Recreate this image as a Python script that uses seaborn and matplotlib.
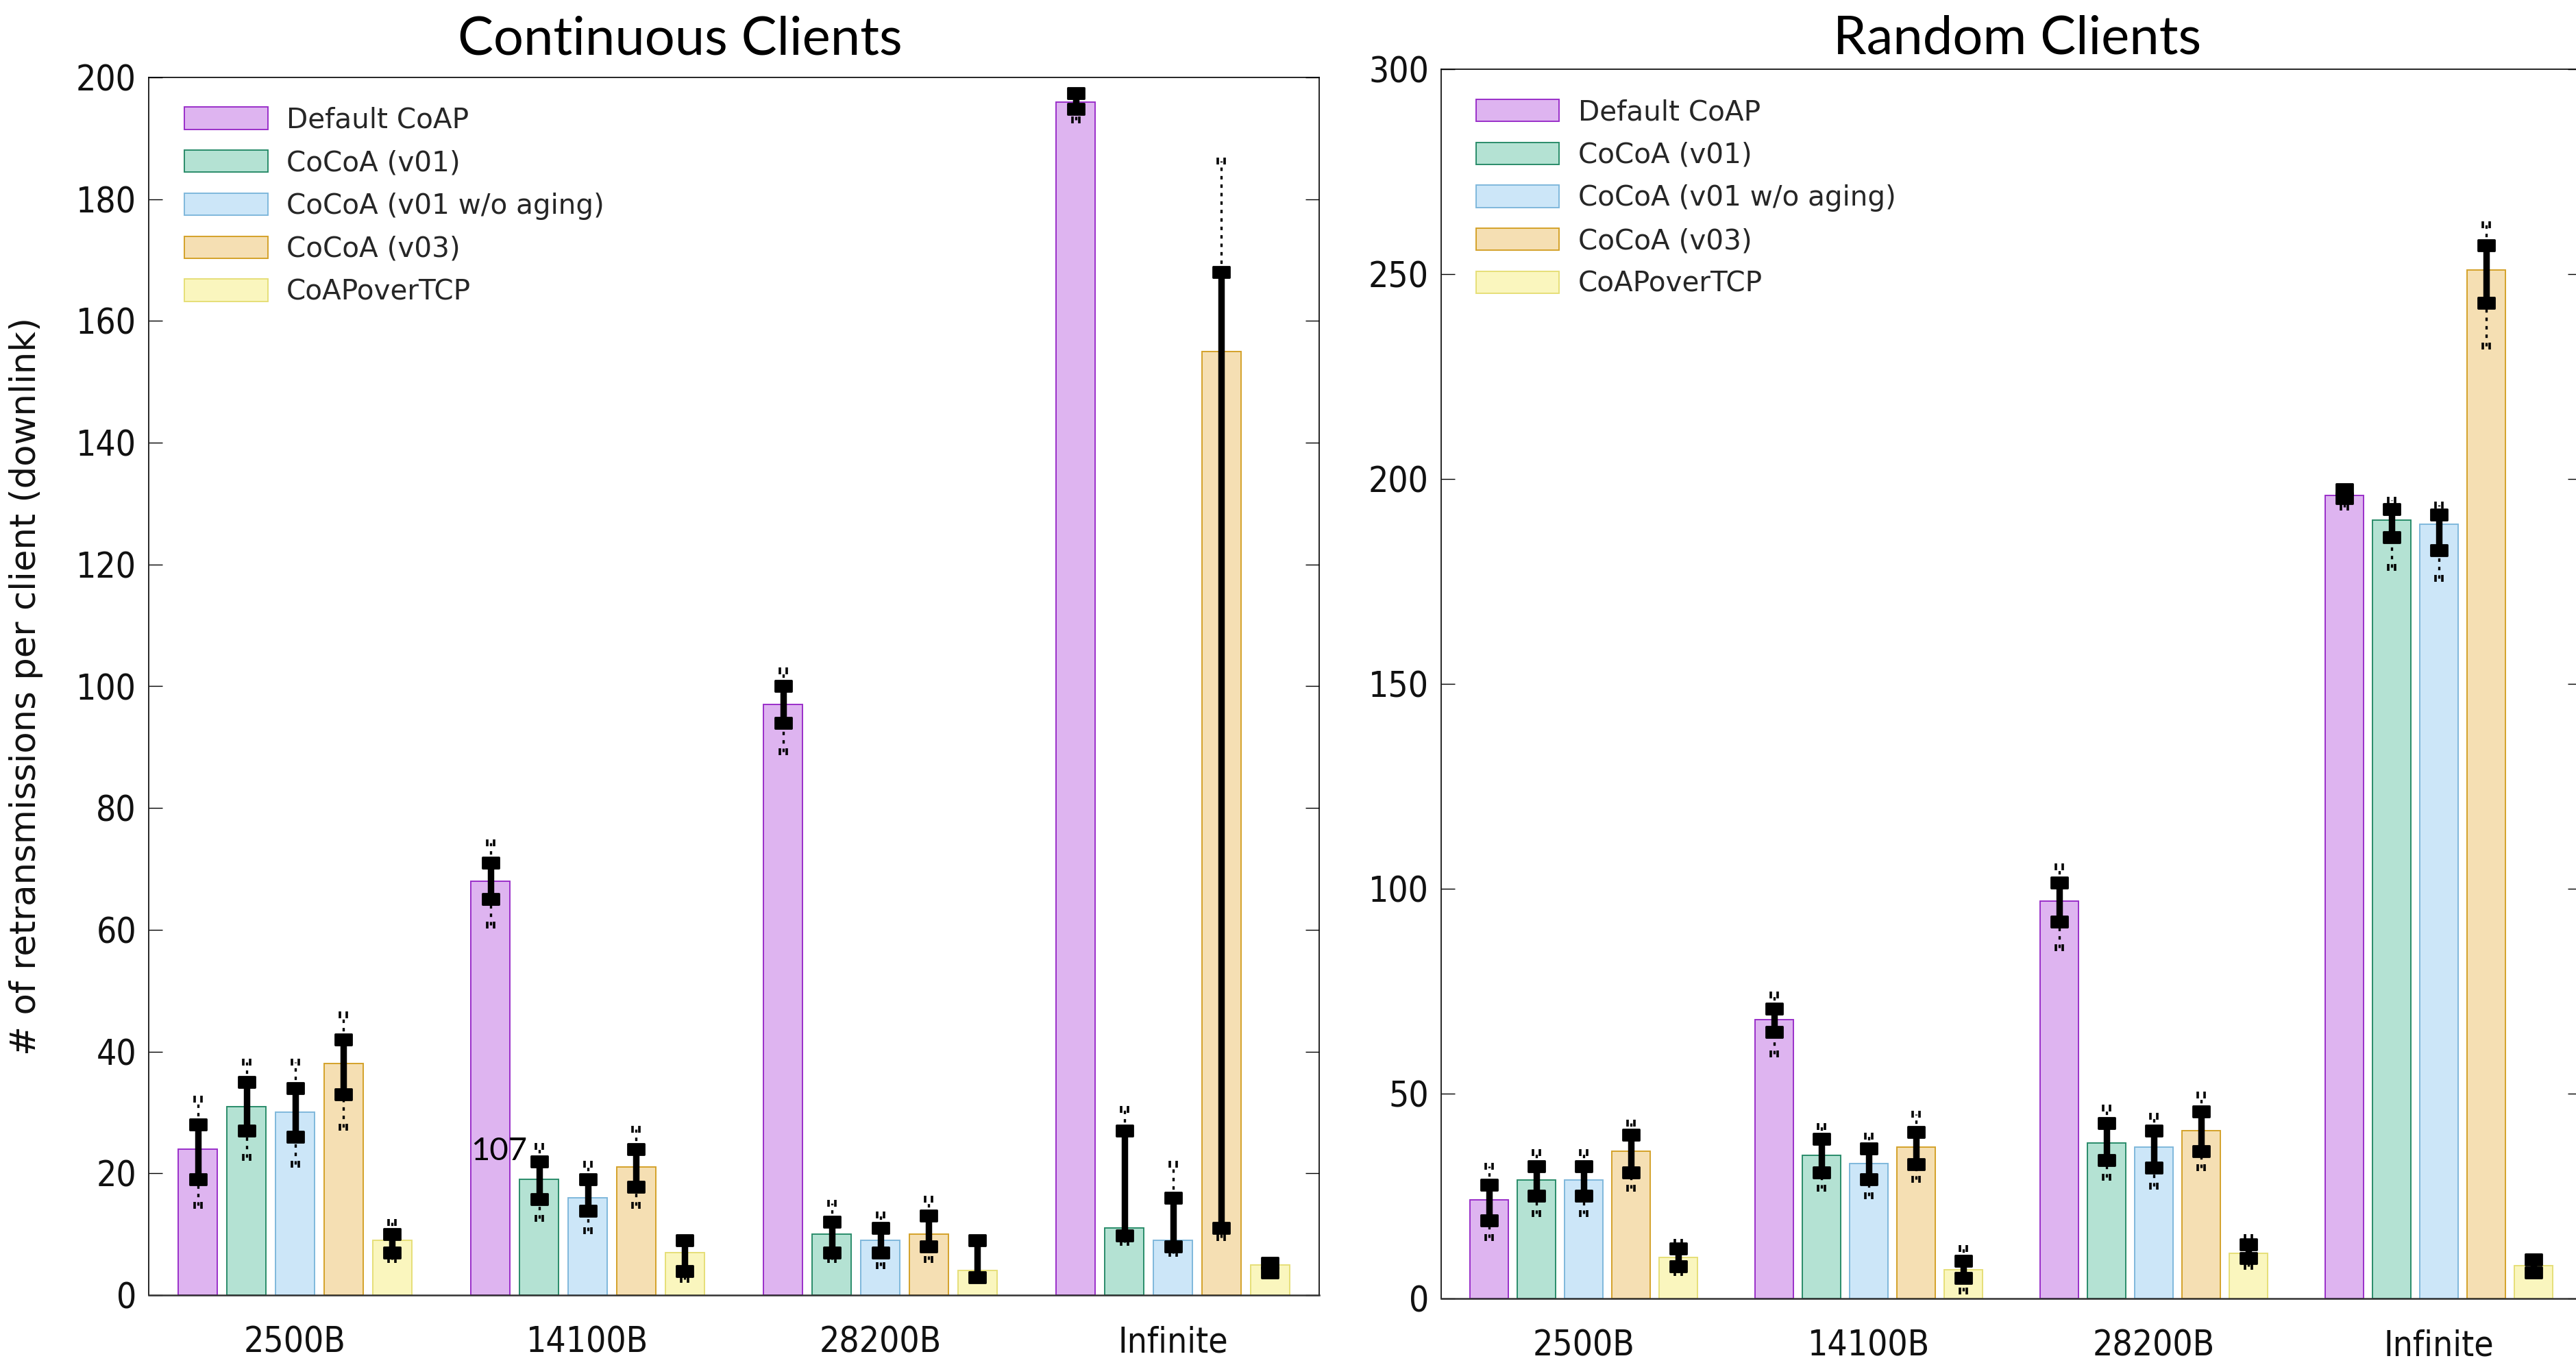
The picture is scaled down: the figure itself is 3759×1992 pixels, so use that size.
import os
import numpy as np
import pandas as pd
import matplotlib
matplotlib.use("Agg")
import matplotlib.pyplot as plt
from matplotlib import font_manager
from matplotlib.path import Path
import seaborn as sns

# ---------------- data ----------------
categories = ["2500B", "14100B", "28200B", "Infinite"]
series = ["Default CoAP", "CoCoA (v01)", "CoCoA (v01 w/o aging)", "CoCoA (v03)", "CoAPoverTCP"]

# Continuous clients: bar values per series (one per category)
cont_mean = {
    "Default CoAP":          [24, 68, 97, 196],
    "CoCoA (v01)":           [31, 19, 10, 11],
    "CoCoA (v01 w/o aging)": [30, 16, 9, 9],
    "CoCoA (v03)":           [38, 21, 10, 155],
    "CoAPoverTCP":           [9, 7, 4, 5],
}
cont_lo = {
    "Default CoAP":          [19, 65, 94, 194.8],
    "CoCoA (v01)":           [27, 15.8, 7, 9.8],
    "CoCoA (v01 w/o aging)": [26, 13.8, 7, 8],
    "CoCoA (v03)":           [33, 17.8, 8, 11],
    "CoAPoverTCP":           [7, 3.9, 2.9, 3.7],
}
cont_hi = {
    "Default CoAP":          [28, 71, 100, 197.4],
    "CoCoA (v01)":           [35, 22, 12, 27],
    "CoCoA (v01 w/o aging)": [34, 19, 11, 16],
    "CoCoA (v03)":           [42, 24, 13, 168],
    "CoAPoverTCP":           [10, 9, 9, 5.3],
}
cont_min = {
    "Default CoAP":          [14.8, 60.8, 89.3, 193],
    "CoCoA (v01)":           [22.6, 12.6, 5.8, 8.7],
    "CoCoA (v01 w/o aging)": [21.5, 10.6, 4.8, 6.9],
    "CoCoA (v03)":           [27.6, 14.8, 5.8, 9.4],
    "CoAPoverTCP":           [5.8, 2.6, np.nan, np.nan],
}
cont_max = {
    "Default CoAP":          [32.2, 74.3, 102.5, np.nan],
    "CoCoA (v01)":           [38.3, 24.4, 15.1, 30.5],
    "CoCoA (v01 w/o aging)": [38.3, 21.5, 13.2, 21.5],
    "CoCoA (v03)":           [46, 27.2, 15.8, 186.3],
    "CoAPoverTCP":           [11.9, np.nan, np.nan, np.nan],
}

# Random clients
rand_mean = {
    "Default CoAP":          [24, 68, 97, 196],
    "CoCoA (v01)":           [29, 35, 38, 190],
    "CoCoA (v01 w/o aging)": [29, 33, 37, 189],
    "CoCoA (v03)":           [36, 37, 41, 251],
    "CoAPoverTCP":           [10, 7, 11, 8],
}
rand_lo = {
    "Default CoAP":          [19, 65, 92, 195.3],
    "CoCoA (v01)":           [25.1, 30.7, 33.8, 185.8],
    "CoCoA (v01 w/o aging)": [25.1, 29.1, 31.9, 182.6],
    "CoCoA (v03)":           [30.7, 32.8, 35.9, 243],
    "CoAPoverTCP":           [7.9, 5, 9.8, 6.3],
}
rand_hi = {
    "Default CoAP":          [27.8, 70.8, 101.5, 197.5],
    "CoCoA (v01)":           [32.2, 38.9, 42.8, 192.7],
    "CoCoA (v01 w/o aging)": [32.2, 36.7, 40.9, 191.3],
    "CoCoA (v03)":           [39.9, 40.7, 45.7, 257],
    "CoAPoverTCP":           [12.2, 9.2, 13.2, 9.5],
}
rand_min = {
    "Default CoAP":          [14.8, 59.7, 85.6, 193.2],
    "CoCoA (v01)":           [20.8, 27, 29.6, 178.4],
    "CoCoA (v01 w/o aging)": [20.8, 25.1, 27.5, 175.7],
    "CoCoA (v03)":           [27, 29.1, 32, 232.5],
    "CoAPoverTCP":           [6.3, 1.8, 7.9, np.nan],
}
rand_max = {
    "Default CoAP":          [32.2, 74, 105.4, np.nan],
    "CoCoA (v01)":           [35.6, 42, 46.5, 194.8],
    "CoCoA (v01 w/o aging)": [35.6, 39.6, 44.4, 193.7],
    "CoCoA (v03)":           [42.8, 44.9, 49.7, 262.1],
    "CoAPoverTCP":           [13.7, 12.2, 14.8, np.nan],
}

fill_colors = ["#deb4f0", "#b4e2d3", "#cce6f8", "#f5dfb3", "#faf6be"]
edge_colors = ["#9a2fc9", "#2a8c6a", "#7fb8dc", "#d4a22a", "#e6df78"]

# ---------------- style ----------------
sns.set_theme(style="white")
plt.rcParams["font.family"] = ["DejaVu Sans"]


def has_font(name):
    try:
        font_manager.findfont(font_manager.FontProperties(family=name), fallback_to_default=False)
        return True
    except Exception:
        return False


# narrow font for tick labels
tick_props = dict(family=["DejaVu Sans"], size=20, stretch="normal")
narrow_found = False
for nm in ["Liberation Sans Narrow", "Arial Narrow", "DejaVu Sans Condensed"]:
    if has_font(nm):
        tick_props = dict(family=[nm, "DejaVu Sans"], size=20 if "Narrow" in nm else 18.5, stretch="normal")
        narrow_found = True
        break
if not narrow_found:
    try:
        f = font_manager.findfont(font_manager.FontProperties(family="DejaVu Sans", stretch="condensed"),
                                  fallback_to_default=False)
        if "Condensed" in os.path.basename(f):
            tick_props = dict(family=["DejaVu Sans"], size=18.5, stretch="condensed")
            narrow_found = True
    except Exception:
        pass
if not narrow_found and has_font("Liberation Sans"):
    tick_props = dict(family=["Liberation Sans", "DejaVu Sans"], size=18, stretch="normal")

title_family = ["Lato", "DejaVu Sans"] if has_font("Lato") else ["DejaVu Sans"]

W, H, DPI = 3759, 1992, 200
fig = plt.figure(figsize=(W / DPI, H / DPI), dpi=DPI)
fig.patch.set_facecolor("white")

ax1 = fig.add_axes([217 / W, 1 - 1890 / H, (1925 - 217) / W, (1890 - 113) / H])
ax2 = fig.add_axes([2103 / W, 1 - 1895 / H, (3767 - 2103) / W, (1895 - 101) / H])

# rectangular cap marker and double-tick end marker
cap_marker = Path([(-1, -0.7), (1, -0.7), (1, 0.7), (-1, 0.7), (-1, -0.7)],
                  [Path.MOVETO, Path.LINETO, Path.LINETO, Path.LINETO, Path.CLOSEPOLY])
end_marker = Path([(-1, -1), (-1, 1), (1, -1), (1, 1)],
                  [Path.MOVETO, Path.LINETO, Path.MOVETO, Path.LINETO])


def make_df(means):
    rows = []
    for s in series:
        for c, v in zip(categories, means[s]):
            rows.append({"size": c, "variant": s, "value": v})
    return pd.DataFrame(rows)


def draw_panel(ax, means, lo, hi, mn, mx, ymax, yticks, title, title_x, title_pad):
    df = make_df(means)
    sns.barplot(data=df, x="size", y="value", hue="variant", order=categories,
                hue_order=series, palette=fill_colors, width=0.83, gap=0.2,
                errorbar=None, legend=False, saturation=1, ax=ax, zorder=2)
    for i, cont in enumerate(ax.containers):
        for p in cont.patches:
            p.set_edgecolor(edge_colors[i])
            p.set_linewidth(0.7)
    # error bars: thick inner range with caps, dotted whiskers to extremes
    for i, (s, cont) in enumerate(zip(series, ax.containers)):
        for j, p in enumerate(cont.patches):
            x = p.get_x() + p.get_width() / 2
            l, h = lo[s][j], hi[s][j]
            a, b = mn[s][j], mx[s][j]
            if not np.isnan(b):
                ax.plot([x, x], [h, b], color="black", lw=1.2, ls=(0, (1.5, 2.2)), zorder=4)
                ax.plot([x], [b], marker=end_marker, ms=3.3, mew=1.3, color="black", ls="none", zorder=5)
            if not np.isnan(a):
                ax.plot([x, x], [a, l], color="black", lw=1.2, ls=(0, (1.5, 2.2)), zorder=4)
                ax.plot([x], [a], marker=end_marker, ms=3.3, mew=1.3, color="black", ls="none", zorder=5)
            ax.plot([x, x], [l, h], color="black", lw=3.4, solid_capstyle="butt", zorder=5)
            ax.plot([x, x], [l, h], color="black", ls="none", marker=cap_marker, ms=8.5, zorder=6)

    ax.set_xlim(-0.5, 3.5)
    ax.set_ylim(0, ymax)
    ax.set_yticks(yticks)
    ax.set_xlabel("")
    ax.set_ylabel("")
    ax.tick_params(axis="y", which="both", direction="in", length=7.2, width=0.5,
                   left=True, right=True, pad=6.5, colors="black")
    ax.tick_params(axis="x", length=0, pad=16, colors="black")
    for lab in ax.get_xticklabels() + ax.get_yticklabels():
        lab.set_family(tick_props["family"])
        lab.set_fontsize(tick_props["size"])
        lab.set_fontstretch(tick_props["stretch"])
        lab.set_color("#111111")
    for side in ["top", "left", "right"]:
        ax.spines[side].set_visible(True)
        ax.spines[side].set_color("black")
        ax.spines[side].set_linewidth(0.6)
    ax.spines["bottom"].set_color("#333333")
    ax.spines["bottom"].set_linewidth(0.9)
    ax.set_facecolor("white")

    ax.legend(handles=list(ax.containers), labels=series, loc="upper left",
              bbox_to_anchor=(0.0304, 0.976), frameon=False, fontsize=14.6,
              handlelength=3.0, handleheight=0.85, handletextpad=0.68,
              labelspacing=0.56, borderpad=0, borderaxespad=0)

    t = ax.set_title(title, family=title_family, fontsize=28, pad=title_pad, color="black")
    t.set_x(title_x)


draw_panel(ax1, cont_mean, cont_lo, cont_hi, cont_min, cont_max, 200,
           np.arange(0, 201, 20), "Continuous Clients", 0.4537, 12)
draw_panel(ax2, rand_mean, rand_lo, rand_hi, rand_min, rand_max, 300,
           np.arange(0, 301, 50), "Random Clients", 0.505, 8)

ax1.set_ylabel("# of retransmissions per client (downlink)", fontsize=18.5, color="#111111")
ax1.yaxis.set_label_coords(-0.0902, 0.5)

ax1.text(0.697, 23.6, "107", ha="center", va="center", family=title_family,
         fontsize=17, color="black", zorder=7)

fig.savefig("out.png", dpi=DPI, facecolor="white")
